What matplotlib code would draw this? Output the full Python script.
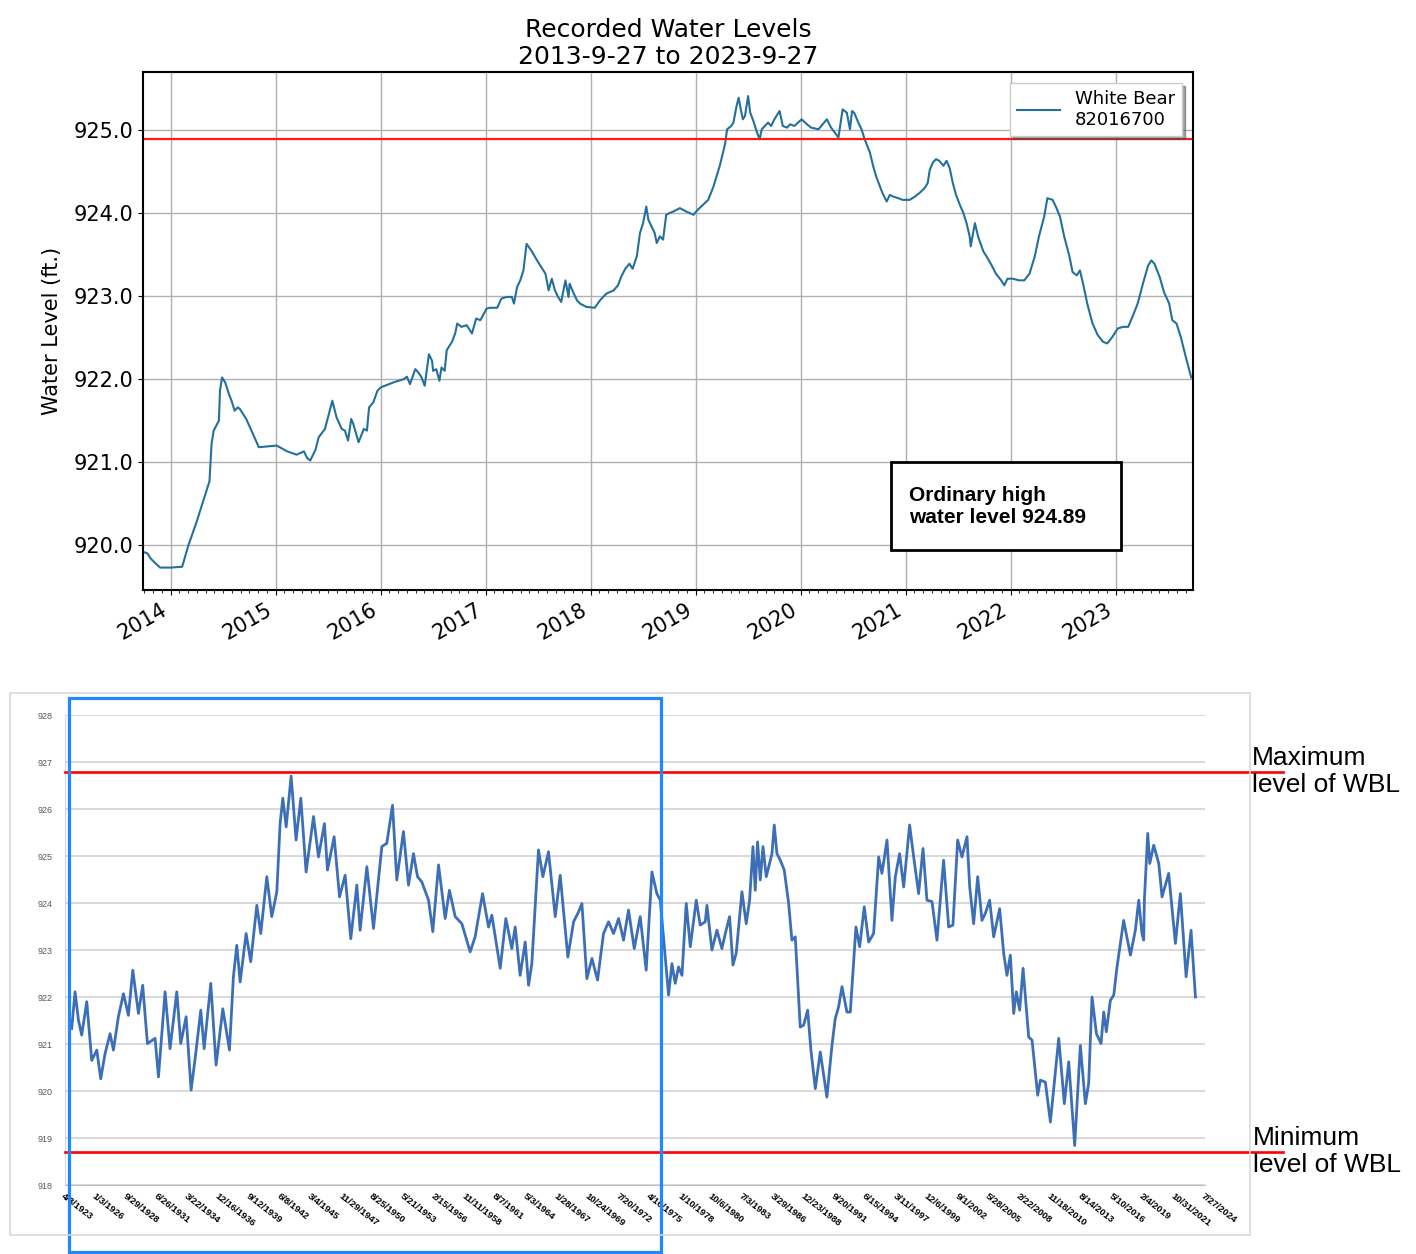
import pandas as pd
import matplotlib
matplotlib.use("Agg")
import matplotlib.pyplot as plt
from matplotlib.patches import Rectangle
from matplotlib.ticker import FormatStrFormatter, MultipleLocator

# ---- data: recent record (decimal year, ft) ----
recent_years = [
    2013.74, 2013.78, 2013.81, 2013.84, 2013.90, 2014.00, 2014.11, 2014.17, 2014.25, 2014.31,
    2014.37, 2014.39, 2014.41, 2014.46, 2014.47, 2014.49, 2014.52, 2014.55, 2014.58, 2014.61,
    2014.64, 2014.66, 2014.72, 2014.77, 2014.84, 2015.01, 2015.11, 2015.20, 2015.27, 2015.30,
    2015.33, 2015.38, 2015.41, 2015.47, 2015.54, 2015.58, 2015.63, 2015.66, 2015.69, 2015.72,
    2015.74, 2015.79, 2015.84, 2015.87, 2015.89, 2015.93, 2015.97, 2016.00, 2016.12, 2016.22,
    2016.25, 2016.28, 2016.33, 2016.36, 2016.39, 2016.42, 2016.46, 2016.49, 2016.50, 2016.53,
    2016.56, 2016.58, 2016.61, 2016.63, 2016.68, 2016.71, 2016.73, 2016.77, 2016.82, 2016.87,
    2016.91, 2016.95, 2017.01,
    2017.04, 2017.11, 2017.15, 2017.20, 2017.25, 2017.27, 2017.30, 2017.33, 2017.36, 2017.39,
    2017.44, 2017.49, 2017.53, 2017.57, 2017.60, 2017.63, 2017.66, 2017.69, 2017.72, 2017.76,
    2017.79, 2017.80, 2017.84, 2017.87, 2017.90, 2017.96, 2018.04, 2018.09, 2018.15, 2018.22,
    2018.26, 2018.29, 2018.33, 2018.37, 2018.40, 2018.44, 2018.47, 2018.50, 2018.53, 2018.55,
    2018.58, 2018.61, 2018.63, 2018.66, 2018.69, 2018.72, 2018.75, 2018.79, 2018.85, 2018.91,
    2018.98, 2019.02, 2019.07, 2019.12, 2019.17, 2019.23, 2019.28, 2019.30, 2019.34, 2019.36,
    2019.39, 2019.41, 2019.43, 2019.45, 2019.47, 2019.50, 2019.52, 2019.55, 2019.58, 2019.61,
    2019.63, 2019.66, 2019.69, 2019.72, 2019.75, 2019.80, 2019.83, 2019.87, 2019.90, 2019.94,
    2020.01, 2020.06, 2020.10, 2020.17, 2020.25, 2020.29, 2020.36,
    2020.40, 2020.44, 2020.47, 2020.49, 2020.51, 2020.55, 2020.58, 2020.61, 2020.66, 2020.69,
    2020.72, 2020.75, 2020.78, 2020.82, 2020.85, 2020.88, 2020.93, 2020.97, 2021.04, 2021.09,
    2021.13, 2021.18, 2021.21, 2021.23, 2021.26, 2021.29, 2021.32, 2021.36, 2021.39, 2021.42,
    2021.45, 2021.48, 2021.51, 2021.55, 2021.58, 2021.61, 2021.62, 2021.66, 2021.69, 2021.74,
    2021.77, 2021.82, 2021.86, 2021.91, 2021.94, 2021.97, 2022.02, 2022.08, 2022.13, 2022.18,
    2022.23, 2022.27, 2022.32, 2022.35, 2022.40, 2022.43, 2022.47, 2022.51, 2022.56, 2022.59,
    2022.63, 2022.66, 2022.69, 2022.73, 2022.78, 2022.83, 2022.88, 2022.92, 2022.97, 2023.02,
    2023.07, 2023.12, 2023.16, 2023.21, 2023.26, 2023.31, 2023.34, 2023.37, 2023.42, 2023.46,
    2023.51, 2023.54, 2023.58, 2023.60, 2023.62, 2023.67, 2023.72,
]
recent_levels = [
    919.92, 919.90, 919.84, 919.80, 919.73, 919.73, 919.74, 920.00, 920.29, 920.53,
    920.77, 921.22, 921.38, 921.50, 921.86, 922.02, 921.96, 921.84, 921.74, 921.62,
    921.66, 921.64, 921.52, 921.38, 921.18, 921.20, 921.13, 921.09, 921.13, 921.05,
    921.02, 921.15, 921.30, 921.40, 921.74, 921.54, 921.40, 921.38, 921.26, 921.52,
    921.46, 921.24, 921.40, 921.38, 921.66, 921.72, 921.86, 921.90, 921.96, 922.00,
    922.03, 921.94, 922.12, 922.08, 922.02, 921.92, 922.30, 922.22, 922.10, 922.12,
    921.98, 922.14, 922.10, 922.35, 922.45, 922.55, 922.67, 922.63, 922.65, 922.55,
    922.73, 922.71, 922.85,
    922.86, 922.86, 922.97, 922.99, 922.99, 922.91, 923.11, 923.19, 923.31, 923.63,
    923.54, 923.43, 923.35, 923.27, 923.07, 923.21, 923.07, 922.99, 922.93, 923.19,
    922.99, 923.15, 923.03, 922.95, 922.91, 922.87, 922.86, 922.95, 923.03, 923.07,
    923.13, 923.23, 923.33, 923.39, 923.33, 923.48, 923.76, 923.88, 924.08, 923.92,
    923.84, 923.76, 923.64, 923.72, 923.68, 923.98, 924.00, 924.02, 924.06, 924.02,
    923.98, 924.04, 924.10, 924.16, 924.32, 924.57, 924.83, 925.01, 925.05, 925.09,
    925.29, 925.39, 925.25, 925.13, 925.17, 925.41, 925.21, 925.11, 924.99, 924.89,
    925.01, 925.05, 925.09, 925.05, 925.13, 925.23, 925.05, 925.03, 925.07, 925.05,
    925.13, 925.07, 925.03, 925.01, 925.13, 925.03, 924.91,
    925.25, 925.21, 925.01, 925.23, 925.21, 925.09, 925.01, 924.89, 924.73, 924.57,
    924.44, 924.34, 924.24, 924.14, 924.22, 924.20, 924.18, 924.16, 924.16, 924.20,
    924.24, 924.30, 924.36, 924.52, 924.61, 924.65, 924.63, 924.57, 924.63, 924.54,
    924.36, 924.22, 924.12, 924.00, 923.88, 923.72, 923.60, 923.88, 923.72, 923.54,
    923.48, 923.37, 923.27, 923.19, 923.13, 923.21, 923.21, 923.19, 923.19, 923.27,
    923.48, 923.72, 923.96, 924.18, 924.16, 924.08, 923.96, 923.72, 923.48, 923.29,
    923.25, 923.31, 923.15, 922.91, 922.67, 922.53, 922.45, 922.43, 922.51, 922.61,
    922.63, 922.63, 922.75, 922.91, 923.15, 923.37, 923.43, 923.39, 923.23, 923.05,
    922.91, 922.71, 922.67, 922.59, 922.51, 922.26, 922.02,
]
recent_year_ticks = list(range(2014, 2024))
ordinary_high = 924.89

# ---- data: historical record 1923-2023 (decimal year, ft) ----
hist_years = [
    1923.86, 1924.16, 1924.46, 1924.75, 1925.20, 1925.64, 1926.09, 1926.44, 1926.83, 1927.27,
    1927.57, 1928.01, 1928.46, 1928.90, 1929.29, 1929.79, 1930.17, 1930.59, 1931.27, 1931.57,
    1932.16, 1932.60, 1933.20, 1933.55, 1934.03, 1934.47, 1934.83, 1935.33, 1935.63, 1936.22,
    1936.69, 1937.29, 1937.88, 1938.23, 1938.53, 1938.83, 1939.36, 1939.77, 1940.31, 1940.66,
    1941.20, 1941.64, 1942.09, 1942.38, 1942.62, 1942.92, 1943.36, 1943.80, 1944.22, 1944.69,
    1945.35, 1945.79, 1946.32, 1946.59, 1947.18, 1947.66, 1948.16, 1948.66, 1949.20,
    1949.49, 1950.09, 1950.68, 1951.42, 1951.86, 1952.37, 1952.75, 1953.34, 1953.79, 1954.23,
    1954.59, 1954.97, 1955.57, 1955.95, 1956.46, 1957.05, 1957.43, 1957.94, 1958.53, 1959.27,
    1959.71, 1960.37, 1960.90, 1961.20, 1961.94, 1962.44, 1962.97, 1963.27, 1963.71, 1964.16,
    1964.46, 1964.75, 1965.34, 1965.73, 1966.23, 1966.83, 1967.27, 1967.95, 1968.46, 1968.90,
    1969.20, 1969.64, 1970.09, 1970.59, 1971.12, 1971.57, 1972.01, 1972.46, 1972.90, 1973.34,
    1973.85, 1974.38, 1974.91, 1975.42, 1975.86, 1976.16,
    1976.90, 1977.20, 1977.49, 1977.79, 1978.09, 1978.47, 1978.83, 1979.36, 1979.71, 1980.16,
    1980.31, 1980.75, 1981.20, 1981.64, 1981.94, 1982.32, 1982.62, 1982.91, 1983.42, 1983.80,
    1984.10, 1984.40, 1984.60, 1984.81, 1985.05, 1985.29, 1985.58, 1986.09, 1986.29, 1986.53,
    1986.83, 1987.18, 1987.57, 1987.86, 1988.16, 1988.60, 1988.90, 1989.26, 1989.55, 1989.94,
    1990.38, 1990.97, 1991.42, 1991.71, 1992.01, 1992.31, 1992.75, 1993.05, 1993.55, 1993.88,
    1994.29, 1994.68, 1995.12, 1995.57, 1995.86, 1996.31, 1996.75, 1997.05, 1997.43, 1997.79,
    1998.32, 1998.68, 1999.12, 1999.51, 1999.86, 2000.31, 2000.75, 2001.34, 2001.79, 2002.17,
    2002.59, 2002.97, 2003.42,
    2003.66, 2004.01, 2004.37, 2004.75, 2005.05, 2005.43, 2005.79, 2006.32, 2006.68, 2006.97,
    2007.27, 2007.57, 2007.80, 2008.10, 2008.40, 2008.90, 2009.20, 2009.70, 2009.94, 2010.38,
    2010.83, 2011.57, 2012.07, 2012.46, 2012.99, 2013.49, 2013.94, 2014.23, 2014.53, 2014.92,
    2015.33, 2015.57, 2015.80, 2016.16, 2016.46, 2016.75, 2017.34, 2017.94, 2018.38, 2018.68,
    2018.97, 2019.12, 2019.18, 2019.48, 2019.66, 2020.01, 2020.46, 2020.75, 2021.34, 2021.94,
    2022.38, 2022.89, 2023.33, 2023.72,
]
hist_levels = [
    921.33, 922.11, 921.51, 921.19, 921.90, 920.65, 920.87, 920.26, 920.80, 921.22,
    920.87, 921.58, 922.07, 921.61, 922.57, 921.65, 922.25, 921.01, 921.12, 920.30,
    922.11, 920.90, 922.11, 921.01, 921.58, 920.02, 920.69, 921.72, 920.90, 922.29,
    920.55, 921.75, 920.87, 922.43, 923.10, 922.32, 923.35, 922.75, 923.95, 923.35,
    924.56, 923.71, 924.24, 925.69, 926.23, 925.62, 926.70, 925.34, 926.23, 924.66,
    925.84, 924.98, 925.69, 924.70, 925.41, 924.13, 924.59, 923.24, 924.38,
    923.42, 924.77, 923.46, 925.20, 925.27, 926.08, 924.49, 925.52, 924.38, 925.05,
    924.56, 924.45, 924.06, 923.39, 924.81, 923.67, 924.27, 923.71, 923.56, 922.96,
    923.28, 924.20, 923.49, 923.74, 922.61, 923.67, 923.03, 923.49, 922.46, 923.17,
    922.25, 922.71, 925.13, 924.56, 925.09, 923.71, 924.59, 922.85, 923.60, 923.81,
    923.99, 922.39, 922.82, 922.36, 923.35, 923.60, 923.35, 923.67, 923.21, 923.85,
    923.03, 923.71, 922.57, 924.66, 924.20, 924.06,
    922.04, 922.71, 922.29, 922.64, 922.46, 923.99, 923.07, 924.06, 923.53, 923.60,
    923.95, 923.00, 923.42, 923.03, 923.35, 923.71, 922.68, 922.93, 924.24, 923.56,
    924.06, 925.20, 924.27, 925.30, 924.49, 925.20, 924.56, 925.05, 925.66, 925.05,
    924.91, 924.70, 923.99, 923.21, 923.28, 921.36, 921.40, 921.72, 920.87, 920.05,
    920.83, 919.87, 920.97, 921.54, 921.79, 922.22, 921.68, 921.68, 923.49, 923.07,
    923.92, 923.17, 923.35, 924.98, 924.63, 925.34, 923.63, 924.56, 925.05, 924.34,
    925.66, 924.98, 924.20, 925.16, 924.06, 924.03, 923.21, 924.91, 923.49, 923.53,
    925.34, 924.98, 925.41,
    924.34, 923.56, 924.56, 923.63, 923.78, 924.06, 923.28, 923.88, 922.93, 922.46,
    922.89, 921.65, 922.11, 921.72, 922.61, 921.15, 921.08, 919.91, 920.23, 920.19,
    919.34, 921.12, 919.73, 920.62, 918.84, 920.97, 919.73, 920.16, 922.00, 921.22,
    921.01, 921.68, 921.26, 921.93, 922.04, 922.64, 923.63, 922.89, 923.42, 924.06,
    923.35, 923.21, 924.06, 925.48, 924.84, 925.23, 924.84, 924.13, 924.63, 923.14,
    924.20, 922.43, 923.42, 922.00,
]
hist_date_labels = [
    "4/8/1923", "1/3/1926", "9/29/1928", "6/26/1931", "3/22/1934", "12/16/1936",
    "9/12/1939", "6/8/1942", "3/4/1945", "11/29/1947", "8/25/1950", "5/21/1953",
    "2/15/1956", "11/11/1958", "8/7/1961", "5/3/1964", "1/28/1967", "10/24/1969",
    "7/20/1972", "4/16/1975", "1/10/1978", "10/6/1980", "7/3/1983", "3/29/1986",
    "12/23/1988", "9/20/1991", "6/15/1994", "3/11/1997", "12/6/1999", "9/1/2002",
    "5/28/2005", "2/22/2008", "11/18/2010", "8/14/2013", "5/10/2016", "2/4/2019",
    "10/31/2021", "7/27/2024",
]
hist_level_ticks = list(range(918, 929))
max_level = 926.78
min_level = 918.71
highlight_span = (1923.63, 1976.25)

# tick positions of the date labels as decimal years
d = pd.to_datetime(hist_date_labels, format="%m/%d/%Y")
days_in_year = [366 if t.is_leap_year else 365 for t in d]
hist_ticks = [t.year + (t.dayofyear - 1) / n for t, n in zip(d, days_in_year)]

W, H = 1416, 1254


def px_box(l, t, r, b):
    return [l / W, 1 - b / H, (r - l) / W, (b - t) / H]


fig = plt.figure(figsize=(W / 100, H / 100), dpi=100)

# ================= top chart =================
ax = fig.add_axes(px_box(143, 72, 1193, 590))
ax.plot(recent_years, recent_levels, color="#23709c", lw=1.5, label="White Bear\n82016700")
ax.axhline(ordinary_high, color="#ff1a1a", lw=1.6)
ax.set_xlim(2013.737, 2023.737)
ax.set_ylim(919.46, 925.70)
ax.set_xticks(recent_year_ticks)
ax.set_xticklabels([str(y) for y in recent_year_ticks], rotation=30, ha="right", fontsize=15)
ax.xaxis.set_minor_locator(MultipleLocator(1 / 12))
ax.yaxis.set_major_locator(MultipleLocator(1))
ax.yaxis.set_major_formatter(FormatStrFormatter("%.1f"))
ax.tick_params(axis="y", labelsize=15)
ax.grid(True, color="#b0b0b0", lw=1)
for s in ax.spines.values():
    s.set_linewidth(1.5)
ax.set_ylabel("Water Level (ft.)", fontsize=15, labelpad=8)
ax.set_title("Recorded Water Levels\n2013-9-27 to 2023-9-27", fontsize=18, linespacing=1.15)
ax.legend(loc="upper right", fontsize=13, shadow=True, fancybox=False, framealpha=1,
          edgecolor="#cccccc", handlelength=2.4, borderaxespad=0.6)

ax.add_patch(Rectangle((0.7124, 0.0772), 0.219, 0.1699, transform=ax.transAxes,
                       facecolor="white", edgecolor="black", lw=2, zorder=5))
ax.text(0.7295, 0.162, "Ordinary high\nwater level 924.89", transform=ax.transAxes,
        fontsize=15, fontweight="bold", family="Liberation Sans", va="center", ha="left",
        linespacing=1.2, zorder=6)

# ================= bottom chart (historical) =================
fig.patches.append(Rectangle((10 / W, 1 - 1235 / H), 1240 / W, 542 / H,
                             transform=fig.transFigure, fill=False,
                             edgecolor="#d9d9d9", lw=1.2))

ax2 = fig.add_axes(px_box(65, 715, 1205, 1185))
ax2.plot(hist_years, hist_levels, color="#3d6fb6", lw=2.0, zorder=3)
ax2.set_xlim(hist_ticks[0], hist_ticks[-1])
ax2.set_ylim(918, 928)
ax2.set_yticks(hist_level_ticks)
ax2.set_yticklabels([str(v) for v in hist_level_ticks], fontsize=6.5, color="#595959",
                    family="Liberation Sans")
ax2.set_xticks(hist_ticks)
ax2.set_xticklabels(hist_date_labels, rotation=-38, ha="left", va="top",
                    rotation_mode="anchor", fontsize=6.8, fontweight="bold",
                    family="Liberation Sans")
ax2.tick_params(axis="both", length=0)
ax2.tick_params(axis="y", pad=9)
ax2.tick_params(axis="x", pad=5)
ax2.grid(axis="y", color="#d9d9d9", lw=1.4)
for k in ["top", "right"]:
    ax2.spines[k].set_visible(False)
ax2.spines["left"].set_color("#d9d9d9")
ax2.spines["bottom"].set_color("#bfbfbf")

ax2.axhline(max_level, xmin=0, xmax=(1283 - 65) / 1140, color="red", lw=1.9,
            clip_on=False, zorder=4)
ax2.axhline(min_level, xmin=0, xmax=(1283 - 65) / 1140, color="red", lw=1.9,
            clip_on=False, zorder=4)
ax2.add_patch(Rectangle((highlight_span[0], 916.57), highlight_span[1] - highlight_span[0],
                        928.36 - 916.57, fill=False, edgecolor="#1e88ff", lw=2.3,
                        clip_on=False, zorder=5))

fig.text(1252 / W, 1 - 746 / H, "Maximum\nlevel of WBL", fontsize=19,
         family="Liberation Sans", va="top", ha="left", linespacing=1.15)
fig.text(1253 / W, 1 - 1126 / H, "Minimum\nlevel of WBL", fontsize=19,
         family="Liberation Sans", va="top", ha="left", linespacing=1.15)

fig.savefig("out.png", dpi=100)
